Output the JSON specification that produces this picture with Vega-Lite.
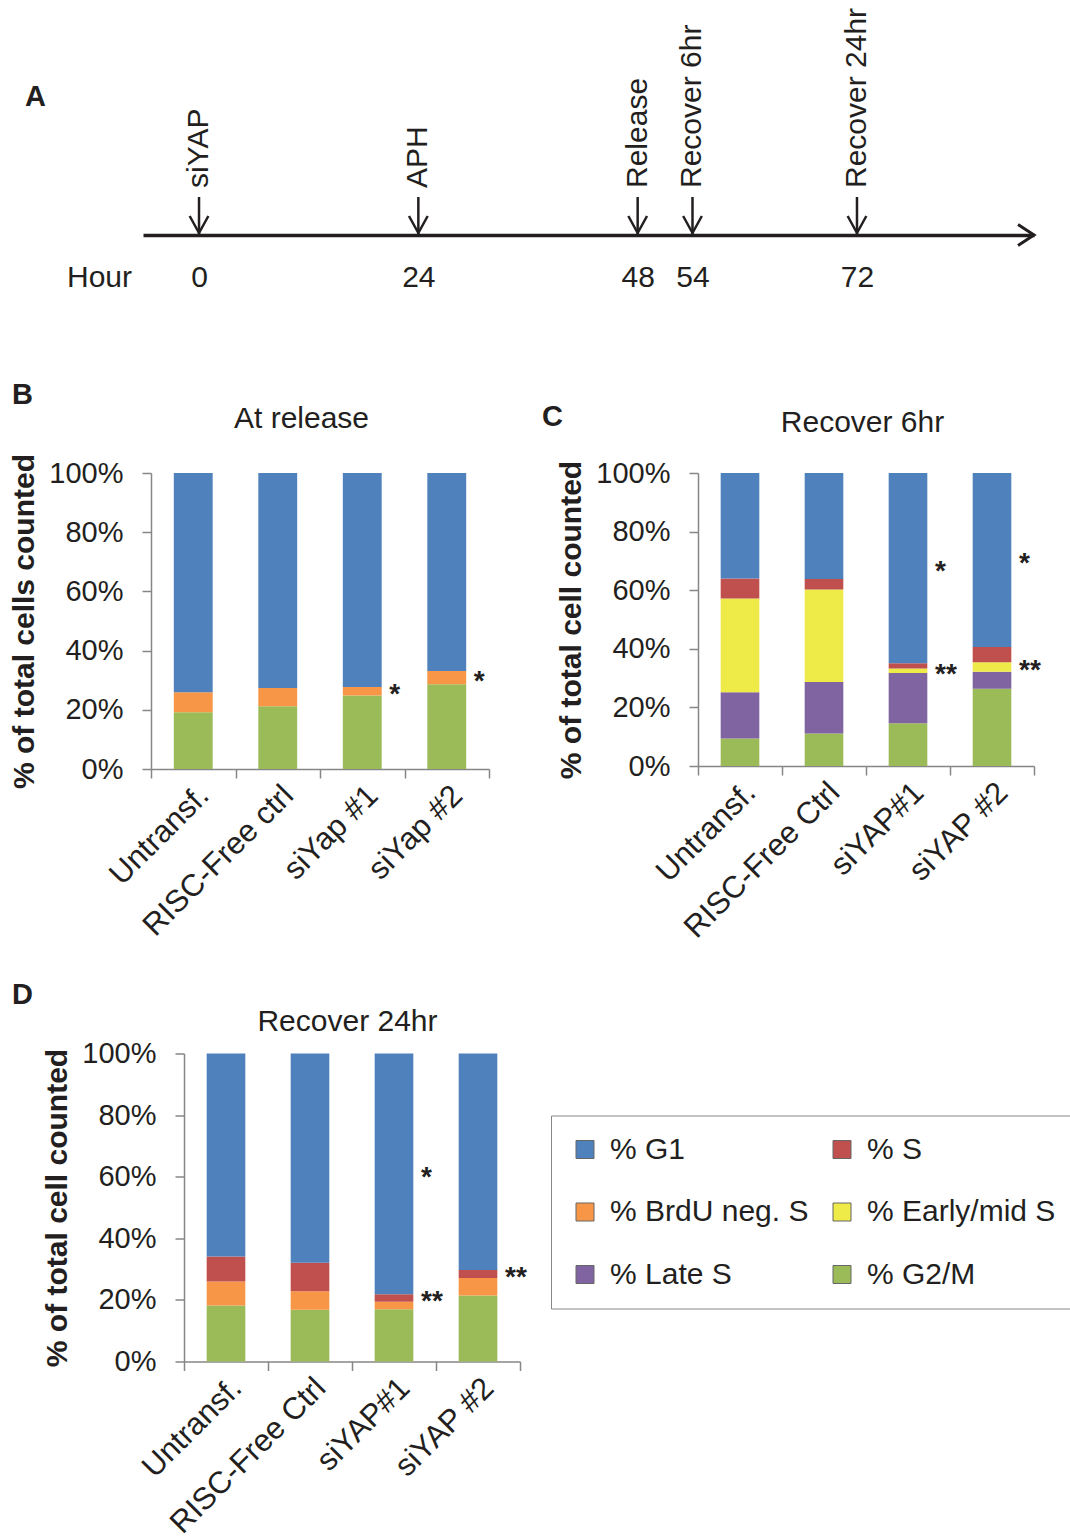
{
  "$schema": "https://vega.github.io/schema/vega-lite/v6.json",
  "background": "white",
  "padding": {"left": 9, "top": 7, "right": 0, "bottom": 0},
  "config": {
    "font": "Liberation Sans",
    "view": {"stroke": null},
    "title": {"color": "#231F20", "fontSize": 29, "fontWeight": "bold", "anchor": "start", "frame": "group"},
    "text": {"color": "#231F20"},
    "axis": {"grid": false, "labelColor": "#231F20", "titleColor": "#231F20", "domainColor": "#868686", "tickColor": "#868686", "domainWidth": 1.5, "tickWidth": 1.5, "labelLimit": 0}
  },
  "datasets": {
    "events": [
      {"hour": 0, "event": "siYAP"},
      {"hour": 24, "event": "APH"},
      {"hour": 48, "event": "Release"},
      {"hour": 54, "event": "Recover 6hr"},
      {"hour": 72, "event": "Recover 24hr"}
    ],
    "release": [
      {"group": "Untransf.", "phase": "% G2/M", "value": 19.2, "sig": ""},
      {"group": "Untransf.", "phase": "% BrdU neg. S", "value": 6.7, "sig": ""},
      {"group": "Untransf.", "phase": "% G1", "value": 74.1, "sig": ""},
      {"group": "RISC-Free ctrl", "phase": "% G2/M", "value": 21.2, "sig": ""},
      {"group": "RISC-Free ctrl", "phase": "% BrdU neg. S", "value": 6.2, "sig": ""},
      {"group": "RISC-Free ctrl", "phase": "% G1", "value": 72.6, "sig": ""},
      {"group": "siYap #1", "phase": "% G2/M", "value": 24.8, "sig": ""},
      {"group": "siYap #1", "phase": "% BrdU neg. S", "value": 2.9, "sig": "*"},
      {"group": "siYap #1", "phase": "% G1", "value": 72.3, "sig": ""},
      {"group": "siYap #2", "phase": "% G2/M", "value": 28.6, "sig": ""},
      {"group": "siYap #2", "phase": "% BrdU neg. S", "value": 4.5, "sig": "*"},
      {"group": "siYap #2", "phase": "% G1", "value": 66.9, "sig": ""}
    ],
    "rec6": [
      {"group": "Untransf.", "phase": "% G2/M", "value": 9.4, "sig": ""},
      {"group": "Untransf.", "phase": "% Late S", "value": 15.8, "sig": ""},
      {"group": "Untransf.", "phase": "% Early/mid S", "value": 32.0, "sig": ""},
      {"group": "Untransf.", "phase": "% S", "value": 6.8, "sig": ""},
      {"group": "Untransf.", "phase": "% G1", "value": 36.0, "sig": ""},
      {"group": "RISC-Free Ctrl", "phase": "% G2/M", "value": 11.1, "sig": ""},
      {"group": "RISC-Free Ctrl", "phase": "% Late S", "value": 17.6, "sig": ""},
      {"group": "RISC-Free Ctrl", "phase": "% Early/mid S", "value": 31.5, "sig": ""},
      {"group": "RISC-Free Ctrl", "phase": "% S", "value": 3.6, "sig": ""},
      {"group": "RISC-Free Ctrl", "phase": "% G1", "value": 36.2, "sig": ""},
      {"group": "siYAP#1", "phase": "% G2/M", "value": 14.6, "sig": ""},
      {"group": "siYAP#1", "phase": "% Late S", "value": 17.1, "sig": ""},
      {"group": "siYAP#1", "phase": "% Early/mid S", "value": 1.6, "sig": "**"},
      {"group": "siYAP#1", "phase": "% S", "value": 1.8, "sig": ""},
      {"group": "siYAP#1", "phase": "% G1", "value": 64.9, "sig": "*"},
      {"group": "siYAP #2", "phase": "% G2/M", "value": 26.4, "sig": ""},
      {"group": "siYAP #2", "phase": "% Late S", "value": 5.8, "sig": ""},
      {"group": "siYAP #2", "phase": "% Early/mid S", "value": 3.2, "sig": "**"},
      {"group": "siYAP #2", "phase": "% S", "value": 5.2, "sig": ""},
      {"group": "siYAP #2", "phase": "% G1", "value": 59.4, "sig": "*"}
    ],
    "rec24": [
      {"group": "Untransf.", "phase": "% G2/M", "value": 18.2, "sig": ""},
      {"group": "Untransf.", "phase": "% BrdU neg. S", "value": 7.8, "sig": ""},
      {"group": "Untransf.", "phase": "% S", "value": 8.1, "sig": ""},
      {"group": "Untransf.", "phase": "% G1", "value": 65.9, "sig": ""},
      {"group": "RISC-Free Ctrl", "phase": "% G2/M", "value": 16.8, "sig": ""},
      {"group": "RISC-Free Ctrl", "phase": "% BrdU neg. S", "value": 6.0, "sig": ""},
      {"group": "RISC-Free Ctrl", "phase": "% S", "value": 9.3, "sig": ""},
      {"group": "RISC-Free Ctrl", "phase": "% G1", "value": 67.9, "sig": ""},
      {"group": "siYAP#1", "phase": "% G2/M", "value": 17.0, "sig": ""},
      {"group": "siYAP#1", "phase": "% BrdU neg. S", "value": 2.4, "sig": ""},
      {"group": "siYAP#1", "phase": "% S", "value": 2.4, "sig": "**"},
      {"group": "siYAP#1", "phase": "% G1", "value": 78.2, "sig": "*"},
      {"group": "siYAP #2", "phase": "% G2/M", "value": 21.4, "sig": ""},
      {"group": "siYAP #2", "phase": "% BrdU neg. S", "value": 5.7, "sig": ""},
      {"group": "siYAP #2", "phase": "% S", "value": 2.6, "sig": "**"},
      {"group": "siYAP #2", "phase": "% G1", "value": 70.3, "sig": ""}
    ]
  },
  "spacing": 89,
  "resolve": {"scale": {"color": "independent"}, "legend": {"color": "independent"}},
  "vconcat": [
    {
      "width": 883,
      "height": 38,
      "title": {"text": "A", "dx": -126, "dy": 108},
      "data": {"name": "events"},
      "layer": [
        {
          "mark": {"type": "rule", "color": "#231F20", "strokeWidth": 2.5},
          "encoding": {
            "x": {
              "field": "hour", "type": "quantitative",
              "scale": {"domain": [-6.13, 91.37], "range": [-8, 883], "nice": false, "zero": false},
              "axis": {
                "values": [0, 24, 48, 54, 72], "domainColor": "#231F20", "domainWidth": 3.5,
                "ticks": false, "tickSize": 0, "labelFontSize": 30, "labelPadding": 27,
                "labelOverlap": false, "labelFlush": false,
                "title": "Hour", "titleX": -52, "titleY": 27, "titleBaseline": "top", "titleAlign": "center",
                "titleFontSize": 30, "titleFontWeight": "normal"
              }
            }
          }
        },
        {
          "mark": {"type": "point", "shape": "M-0.55,0L0,1L0.55,0", "size": 1156, "filled": false, "color": "#231F20", "strokeWidth": 2.5, "opacity": 1},
          "encoding": {"x": {"field": "hour", "type": "quantitative"}}
        },
        {
          "mark": {"type": "text", "angle": 270, "align": "left", "baseline": "middle", "dx": 28, "fontSize": 30},
          "encoding": {"x": {"field": "hour", "type": "quantitative"}, "text": {"field": "event", "type": "nominal"}}
        },
        {
          "data": {"values": [{}]},
          "mark": {"type": "point", "shape": "M-1,-0.65L0,0L-1,0.65", "size": 1024, "filled": false, "color": "#231F20", "strokeWidth": 3, "opacity": 1},
          "encoding": {"x": {"value": "width"}, "y": {"value": "height"}}
        }
      ]
    },
    {
      "spacing": 36.5,
      "resolve": {"scale": {"color": "independent"}, "legend": {"color": "independent"}},
      "vconcat": [
        {
          "spacing": 52,
          "resolve": {"scale": {"color": "independent"}, "legend": {"color": "independent"}},
          "hconcat": [
            {
              "width": 338, "height": 296,
              "title": {"text": "B", "dx": -139, "dy": 11},
              "data": {"name": "release"},
              "transform": [{"window": [{"op": "row_number", "as": "idx"}]}],
              "layer": [
                {
                  "mark": {"type": "bar", "width": {"band": 0.46}},
                  "encoding": {
                    "x": {"field": "group", "type": "nominal", "sort": null, "scale": {"paddingInner": 0, "paddingOuter": 0},
                      "axis": {"title": null, "labelAngle": -45, "labelAlign": "right", "labelBaseline": "top", "labelFontSize": 31, "labelPadding": 2, "tickBand": "extent", "tickSize": 9}},
                    "y": {"field": "value", "type": "quantitative", "stack": "normalize",
                      "axis": {"values": [0, 0.2, 0.4, 0.6, 0.8, 1], "format": ".0%", "tickSize": 9, "labelFontSize": 29, "labelPadding": 19,
                        "title": "% of total cells counted", "titleFontSize": 30, "titleFontWeight": "bold", "titlePadding": 9}},
                    "color": {"field": "phase", "type": "nominal",
                      "scale": {"domain": ["% G1", "% BrdU neg. S", "% Late S", "% S", "% Early/mid S", "% G2/M"], "range": ["#4F81BD", "#F79646", "#8064A2", "#C0504D", "#EEEA48", "#9BBB59"]},
                      "legend": null},
                    "order": {"field": "idx", "type": "quantitative"}
                  }
                },
                {
                  "mark": {"type": "text", "align": "left", "baseline": "middle", "dx": 27, "dy": 4, "fontSize": 28, "fontWeight": "bold"},
                  "encoding": {
                    "x": {"field": "group", "type": "nominal", "sort": null,
                      "axis": {"orient": "top", "title": "At release", "labels": false, "ticks": false, "tickSize": 0, "domain": false,
                        "titleFontSize": 30, "titleFontWeight": "normal", "titleBaseline": "alphabetic", "titlePadding": 46, "titleX": 150}},
                    "y": {"field": "value", "type": "quantitative", "stack": "normalize", "bandPosition": 0.5},
                    "detail": {"field": "phase", "type": "nominal"},
                    "order": {"field": "idx", "type": "quantitative"},
                    "text": {"field": "sig", "type": "nominal"}
                  }
                }
              ],
              "resolve": {"axis": {"x": "independent"}}
            },
            {
              "width": 336, "height": 293,
              "title": {"text": "C", "dx": -156, "dy": 29},
              "data": {"name": "rec6"},
              "transform": [{"window": [{"op": "row_number", "as": "idx"}]}],
              "layer": [
                {
                  "mark": {"type": "bar", "width": {"band": 0.46}},
                  "encoding": {
                    "x": {"field": "group", "type": "nominal", "sort": null, "scale": {"paddingInner": 0, "paddingOuter": 0},
                      "axis": {"title": null, "labelAngle": -45, "labelAlign": "right", "labelBaseline": "top", "labelFontSize": 31, "labelPadding": 2, "tickBand": "extent", "tickSize": 9}},
                    "y": {"field": "value", "type": "quantitative", "stack": "normalize",
                      "axis": {"values": [0, 0.2, 0.4, 0.6, 0.8, 1], "format": ".0%", "tickSize": 9, "labelFontSize": 29, "labelPadding": 19,
                        "title": "% of total cell counted", "titleFontSize": 30, "titleFontWeight": "bold", "titlePadding": 9}},
                    "color": {"field": "phase", "type": "nominal",
                      "scale": {"domain": ["% G1", "% BrdU neg. S", "% Late S", "% S", "% Early/mid S", "% G2/M"], "range": ["#4F81BD", "#F79646", "#8064A2", "#C0504D", "#EEEA48", "#9BBB59"]},
                      "legend": null},
                    "order": {"field": "idx", "type": "quantitative"}
                  }
                },
                {
                  "mark": {"type": "text", "align": "left", "baseline": "middle", "dx": 27, "dy": 4, "fontSize": 28, "fontWeight": "bold"},
                  "encoding": {
                    "x": {"field": "group", "type": "nominal", "sort": null,
                      "axis": {"orient": "top", "title": "Recover 6hr", "labels": false, "ticks": false, "tickSize": 0, "domain": false,
                        "titleFontSize": 30, "titleFontWeight": "normal", "titleBaseline": "alphabetic", "titlePadding": 42, "titleX": 164}},
                    "y": {"field": "value", "type": "quantitative", "stack": "normalize", "bandPosition": 0.5},
                    "detail": {"field": "phase", "type": "nominal"},
                    "order": {"field": "idx", "type": "quantitative"},
                    "text": {"field": "sig", "type": "nominal"}
                  }
                }
              ],
              "resolve": {"axis": {"x": "independent"}}
            }
          ]
        },
        {
          "width": 369, "height": 308,
          "title": {"text": "D", "dx": -139, "dy": 7.5},
          "data": {"name": "rec24"},
          "transform": [{"window": [{"op": "row_number", "as": "idx"}]}],
          "layer": [
            {
              "mark": {"type": "bar", "width": {"band": 0.46}},
              "encoding": {
                "x": {"field": "group", "type": "nominal", "sort": null, "scale": {"paddingInner": 0, "paddingOuter": 0, "range": [33, 369]},
                  "axis": {"title": null, "labelAngle": -45, "labelAlign": "right", "labelBaseline": "top", "labelFontSize": 31, "labelPadding": 2, "tickBand": "extent", "tickSize": 9}},
                "y": {"field": "value", "type": "quantitative", "stack": "normalize",
                  "axis": {"offset": -33, "values": [0, 0.2, 0.4, 0.6, 0.8, 1], "format": ".0%", "tickSize": 9, "labelFontSize": 29, "labelPadding": 19,
                    "title": "% of total cell counted", "titleFontSize": 30, "titleFontWeight": "bold", "titlePadding": 9}},
                "color": {"field": "phase", "type": "nominal",
                  "scale": {"domain": ["% G1", "% BrdU neg. S", "% Late S", "% S", "% Early/mid S", "% G2/M"], "range": ["#4F81BD", "#F79646", "#8064A2", "#C0504D", "#EEEA48", "#9BBB59"]},
                  "legend": {"orient": "none", "legendX": 400, "legendY": 62, "columns": 2, "title": null,
                    "symbolType": "square", "symbolSize": 324, "symbolStrokeWidth": 1, "symbolStrokeColor": "#666666",
                    "labelFontSize": 30, "labelOffset": 10, "labelColor": "#231F20", "labelLimit": 0,
                    "columnPadding": 18, "rowPadding": 32.5, "padding": 19, "strokeColor": "#888888"}},
                "order": {"field": "idx", "type": "quantitative"}
              }
            },
            {
              "mark": {"type": "text", "align": "left", "baseline": "middle", "dx": 27, "dy": 4, "fontSize": 28, "fontWeight": "bold"},
              "encoding": {
                "x": {"field": "group", "type": "nominal", "sort": null,
                  "axis": {"orient": "top", "title": "Recover 24hr", "labels": false, "ticks": false, "tickSize": 0, "domain": false,
                    "titleFontSize": 30, "titleFontWeight": "normal", "titleBaseline": "alphabetic", "titlePadding": 23.5, "titleX": 196}},
                "y": {"field": "value", "type": "quantitative", "stack": "normalize", "bandPosition": 0.5},
                "detail": {"field": "phase", "type": "nominal"},
                "order": {"field": "idx", "type": "quantitative"},
                "text": {"field": "sig", "type": "nominal"}
              }
            }
          ],
          "resolve": {"axis": {"x": "independent"}}
        }
      ]
    }
  ]
}
